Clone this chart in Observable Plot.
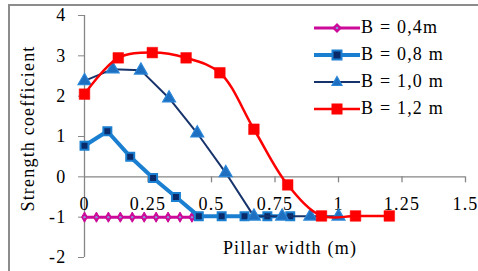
<!DOCTYPE html>
<html><head><meta charset="utf-8">
<script src="https://cdn.jsdelivr.net/npm/d3@7"></script>
<script src="https://cdn.jsdelivr.net/npm/@observablehq/plot@0.6"></script>
<style>
body{margin:0;background:#fff;}
#wrap{position:relative;width:478px;height:271px;overflow:hidden;font-family:"Liberation Serif","Times New Roman",serif;}
#border{position:absolute;left:8px;top:4px;width:600px;height:400px;border-top:2px solid #8c8c8c;border-left:2px solid #8c8c8c;}
#chart{position:absolute;left:0;top:0;}
#legend{position:absolute;left:314px;top:14px;}
.row{display:flex;align-items:center;height:27px;font-size:18px;letter-spacing:1.2px;color:#000;}
.row svg{margin-right:1px}
svg text{letter-spacing:1.2px}
</style></head>
<body>
<div id="wrap"><div id="border"></div><div id="chart"></div><div id="legend"></div></div>
<script>
// ---- data ----
const seriesNames = ["B = 0,4m", "B = 0,8 m", "B = 1,0 m", "B = 1,2 m"];
const xB04 = [0, 0.047, 0.094, 0.141, 0.188, 0.235, 0.282, 0.329, 0.376, 0.423];
const yB04 = [-1, -1, -1, -1, -1, -1, -1, -1, -1, -1];
const xB08 = [0, 0.09, 0.18, 0.27, 0.36, 0.45, 0.54, 0.63, 0.72, 0.81];
const yB08 = [0.77, 1.13, 0.5, -0.03, -0.5, -0.98, -0.98, -0.98, -0.98, -0.98];
const xB10 = [0, 0.111, 0.222, 0.333, 0.444, 0.556, 0.667, 0.778, 0.889, 1.0];
const yB10 = [2.38, 2.67, 2.64, 1.95, 1.08, 0.1, -0.98, -0.98, -0.98, -0.98];
const xB12 = [0, 0.133, 0.267, 0.4, 0.533, 0.667, 0.8, 0.933, 1.067, 1.2];
const yB12 = [2.05, 2.95, 3.08, 2.95, 2.58, 1.18, -0.2, -0.97, -0.97, -0.97];
const xTicks = [0, 0.25, 0.5, 0.75, 1, 1.25, 1.5];
const xTickLabels = ["0", "0.25", "0.5", "0.75", "1", "1.25", "1.5"];
const yTicks = [-2, -1, 0, 1, 2, 3, 4];
const xLabel = "Pillar width (m)";
const yLabel = "Strength coefficient";

const toRows = (xs, ys) => xs.map((x, i) => ({x, y: ys[i]}));
const s04 = toRows(xB04, yB04), s08 = toRows(xB08, yB08), s10 = toRows(xB10, yB10), s12 = toRows(xB12, yB12);

const axisGray = "#868686";
const chart = Plot.plot({
  width: 478, height: 271,
  marginLeft: 84, marginRight: 13, marginTop: 15, marginBottom: 14,
  x: {domain: [0, 1.5], axis: null},
  y: {domain: [-2, 4]},
  style: {fontFamily: '"Liberation Serif","Times New Roman",serif', fontSize: "18px", background: "transparent", color: "#000"},
  marks: [
    Plot.ruleX([0], {stroke: axisGray, strokeWidth: 1.3}),
    Plot.ruleY([0], {stroke: axisGray, strokeWidth: 1.3}),
    Plot.ruleX(xTicks.slice(1), {x: d => d, y1: 0, y2: 0, insetBottom: -6, stroke: axisGray, strokeWidth: 1.3}),
    Plot.axisY({ticks: yTicks, tickSize: 6, tickPadding: 12, tickFormat: d => String(d), stroke: axisGray, fill: "#000", label: null}),
    Plot.text(xTicks, {x: d => d, y: 0, text: (d, i) => xTickLabels[i], dy: 27, fill: "#000"}),
    // B = 0.4
    Plot.line(s04, {x: "x", y: "y", stroke: "#cc0a99", strokeWidth: 3}),
    Plot.dot(s04, {x: "x", y: "y", symbol: "diamond", r: 3.1, fill: "#cc0a99", stroke: "#cc0a99", strokeWidth: 1}),
    Plot.dot(s04, {x: "x", y: "y", r: 1.2, fill: "#8e8ed8"}),
    // B = 0.8
    Plot.line(s08, {x: "x", y: "y", stroke: "#1a7fd0", strokeWidth: 4}),
    Plot.dot(s08, {x: "x", y: "y", symbol: "square", r: 4.5, fill: "#0b2a6a", stroke: "#1a7fd0", strokeWidth: 2}),
    // B = 1.0
    Plot.line(s10, {x: "x", y: "y", stroke: "#17336b", strokeWidth: 2}),
    Plot.dot(s10, {x: "x", y: "y", symbol: "triangle", r: 4.8, fill: "#1f6fc0", stroke: "#2a86d8", strokeWidth: 1.2}),
    // B = 1.2
    Plot.line(s12, {x: "x", y: "y", stroke: "#ff0000", strokeWidth: 2.5, curve: "catmull-rom"}),
    Plot.dot(s12, {x: "x", y: "y", symbol: "square", r: 6, fill: "#ff0000", stroke: "#ff0000", strokeWidth: 0.5}),
    // axis titles
    Plot.text([xLabel], {frameAnchor: "bottom", text: d => d, dx: 15, dy: -4, fill: "#000"}),
    Plot.text([yLabel], {frameAnchor: "left", textAnchor: "middle", text: d => d, rotate: -90, dx: -56, dy: -8, fill: "#000"})
  ]
});
document.getElementById("chart").appendChild(chart);

// ---- legend ----
const legendSpecs = [
  {name: seriesNames[0], line: "#cc0a99", lw: 3, marker: '<path d="M23,5 L28,10 L23,15 L18,10 Z" fill="#cc0a99"/><circle cx="23" cy="10" r="1.3" fill="#8e8ed8"/>'},
  {name: seriesNames[1], line: "#1a7fd0", lw: 4, marker: '<rect x="18.5" y="5.5" width="9" height="9" fill="#0b2a6a" stroke="#1a7fd0" stroke-width="2"/>'},
  {name: seriesNames[2], line: "#17336b", lw: 2, marker: '<path d="M23,4.5 L28,13.5 L18,13.5 Z" fill="#1f6fc0" stroke="#2a86d8" stroke-width="1.2"/>'},
  {name: seriesNames[3], line: "#ff0000", lw: 2.5, marker: '<rect x="17.5" y="4.5" width="11" height="11" fill="#ff0000"/>'}
];
const leg = document.getElementById("legend");
for (const s of legendSpecs) {
  const row = document.createElement("div");
  row.className = "row";
  row.innerHTML = `<svg width="46" height="20"><line x1="0" y1="10" x2="46" y2="10" stroke="${s.line}" stroke-width="${s.lw}"/>${s.marker}</svg><span>${s.name}</span>`;
  leg.appendChild(row);
}
</script>
</body></html>
